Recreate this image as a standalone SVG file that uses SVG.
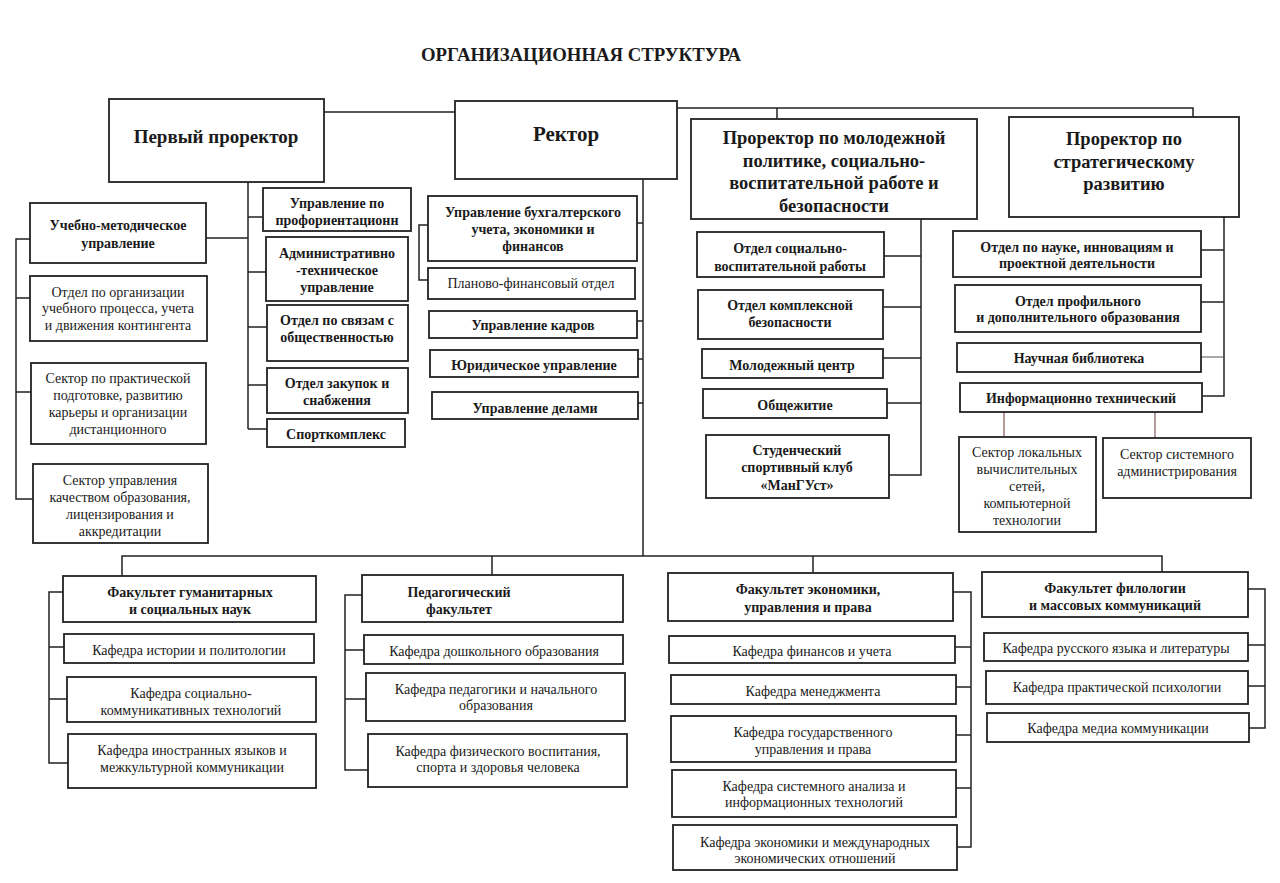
<svg xmlns="http://www.w3.org/2000/svg" width="1280" height="883" viewBox="0 0 1280 883">
<style>
.bg{fill:#ffffff}
.box{fill:#ffffff;stroke:#222;stroke-width:1.8}
.ln{fill:none;stroke:#222;stroke-width:1.5}
.lt{fill:none;stroke:#555;stroke-width:1}
.br{fill:none;stroke:#6b3a3a;stroke-width:1}
text{font-family:"Liberation Serif","Times New Roman",serif;fill:#1a1a1a;text-anchor:middle;dominant-baseline:central}
.b{font-weight:bold;font-size:14px}
.r{font-size:14px}
.h1{font-weight:bold;font-size:19px}
.h0{font-weight:bold;font-size:21px}
.h2{font-weight:bold;font-size:18.5px}
.t{font-weight:bold;font-size:18px}
</style>
<rect class="bg" x="0" y="0" width="1280" height="883"/>
<text class="t" x="581" y="55" textLength="320" lengthAdjust="spacingAndGlyphs">ОРГАНИЗАЦИОННАЯ СТРУКТУРА</text>

<g id="connectors">
<path class="ln" d="M324,112 H455"/>
<path class="ln" d="M677,108 H1193 V117 M777,108 V119"/>
<path class="ln" d="M248,182 V429 M248,217 H263 M248,272 H266 M248,327 H267 M248,385 H267 M248,429 H267 M206,238 H248"/>
<path class="ln" d="M30,239 H16 V499 H33 M16,298 H30 M16,392 H31"/>
<path class="ln" d="M643,179 V556 M637,223 H643 M637,321 H643 M638,359 H643 M638,403 H643 M428,225 H419 V280 H428"/>
<path class="ln" d="M921,219 V475 H889 M884,256 H921 M883,307 H921 M883,358 H921 M887,403 H921"/>
<path class="ln" d="M1224,217 V396 H1202 M1201,250 H1224 M1201,302 H1224"/>
<path class="lt" d="M1201,357 H1224"/>
<path class="br" d="M1004,412 V437 M1155,412 V438"/>
<path class="ln" d="M122,576 V556 H1162 V572 M492,556 V575 M813,556 V573"/>
<path class="ln" d="M63,592 H49 V763 H68 M49,647 H64 M49,699 H67"/>
<path class="ln" d="M362,595 H345 V770 H368 M345,650 H364 M345,699 H366"/>
<path class="ln" d="M953,592 H971 V847 H957 M955,647 H971 M956,687 H971 M956,735 H971 M956,788 H971"/>
<path class="ln" d="M1248,589 H1265 V728 H1249 M1248,645 H1265 M1248,686 H1265"/>
</g>

<g id="first-prorector"><rect class="box" x="109" y="99" width="215" height="83"/><text class="h1" x="216" y="136">Первый проректор</text></g>
<g id="rector"><rect class="box" x="455" y="101" width="222" height="78"/><text class="h0" x="566" y="134">Ректор</text></g>
<g id="prorector-youth"><rect class="box" x="691" y="119" width="286" height="100"/>
<text class="h2" x="834" y="138">Проректор по молодежной</text><text class="h2" x="834" y="161">политике, социально-</text><text class="h2" x="834" y="183">воспитательной работе и</text><text class="h2" x="834" y="206">безопасности</text></g>
<g id="prorector-strategy"><rect class="box" x="1009" y="117" width="230" height="100"/>
<text class="h2" x="1124" y="139">Проректор по</text><text class="h2" x="1124" y="162">стратегическому</text><text class="h2" x="1124" y="184">развитию</text></g>

<g id="umu"><rect class="box" x="30" y="203" width="176" height="60"/><text class="b" x="118" y="225">Учебно-методическое</text><text class="b" x="118" y="243">управление</text></g>
<g id="otdel-org"><rect class="box" x="30" y="276" width="177" height="65"/><text class="r" x="118" y="292">Отдел по организации</text><text class="r" x="118" y="308">учебного процесса, учета</text><text class="r" x="118" y="325">и движения контингента</text></g>
<g id="sektor-prakt"><rect class="box" x="31" y="363" width="175" height="81"/><text class="r" x="118" y="378">Сектор по практической</text><text class="r" x="118" y="395">подготовке, развитию</text><text class="r" x="118" y="412">карьеры и организации</text><text class="r" x="118" y="429">дистанционного</text></g>
<g id="sektor-kach"><rect class="box" x="33" y="464" width="175" height="79"/><text class="r" x="120" y="480">Сектор управления</text><text class="r" x="120" y="497">качеством образования,</text><text class="r" x="120" y="514">лицензирования и</text><text class="r" x="120" y="531">аккредитации</text></g>

<g id="proforient"><rect class="box" x="263" y="188" width="148" height="43"/><text class="b" x="337" y="203">Управление по</text><text class="b" x="337" y="220">профориентационн</text></g>
<g id="adm-tech"><rect class="box" x="266" y="237" width="142" height="64"/><text class="b" x="337" y="253">Административно</text><text class="b" x="337" y="270">-техническое</text><text class="b" x="337" y="287">управление</text></g>
<g id="pr-otdel"><rect class="box" x="267" y="305" width="141" height="56"/><text class="b" x="337" y="320">Отдел по связам с</text><text class="b" x="337" y="337">общественностью</text></g>
<g id="zakupki"><rect class="box" x="267" y="368" width="141" height="45"/><text class="b" x="337" y="383">Отдел закупок и</text><text class="b" x="337" y="400">снабжения</text></g>
<g id="sportkompleks"><rect class="box" x="267" y="419" width="138" height="28"/><text class="b" x="336" y="434">Спорткомплекс</text></g>

<g id="buh"><rect class="box" x="428" y="196" width="209" height="65"/><text class="b" x="533" y="212">Управление бухгалтерского</text><text class="b" x="533" y="229">учета, экономики и</text><text class="b" x="533" y="246">финансов</text></g>
<g id="plan-fin"><rect class="box" x="428" y="268" width="207" height="31"/><text class="r" x="531" y="283">Планово-финансовый отдел</text></g>
<g id="kadry"><rect class="box" x="429" y="311" width="208" height="27"/><text class="b" x="533" y="325">Управление кадров</text></g>
<g id="yurid"><rect class="box" x="430" y="350" width="208" height="27"/><text class="b" x="534" y="365">Юридическое управление</text></g>
<g id="dela"><rect class="box" x="432" y="392" width="206" height="27"/><text class="b" x="535" y="408">Управление делами</text></g>

<g id="soc-vosp"><rect class="box" x="697" y="232" width="187" height="45"/><text class="b" x="790" y="248">Отдел социально-</text><text class="b" x="790" y="266">воспитательной работы</text></g>
<g id="bezop"><rect class="box" x="698" y="290" width="185" height="49"/><text class="b" x="790" y="305">Отдел комплексной</text><text class="b" x="790" y="322">безопасности</text></g>
<g id="mol-centr"><rect class="box" x="702" y="349" width="181" height="29"/><text class="b" x="792" y="365">Молодежный центр</text></g>
<g id="obshezhitie"><rect class="box" x="703" y="389" width="184" height="29"/><text class="b" x="795" y="405">Общежитие</text></g>
<g id="mangust"><rect class="box" x="706" y="435" width="183" height="63"/><text class="b" x="797" y="450">Студенческий</text><text class="b" x="797" y="467">спортивный клуб</text><text class="b" x="797" y="485">«МанГУст»</text></g>

<g id="nauka"><rect class="box" x="953" y="231" width="248" height="46"/><text class="b" x="1077" y="247">Отдел по науке, инновациям и</text><text class="b" x="1077" y="263">проектной деятельности</text></g>
<g id="profil"><rect class="box" x="955" y="285" width="246" height="47"/><text class="b" x="1078" y="301">Отдел профильного</text><text class="b" x="1078" y="317">и дополнительного образования</text></g>
<g id="biblioteka"><rect class="box" x="957" y="343" width="244" height="29"/><text class="b" x="1079" y="358">Научная библиотека</text></g>
<g id="info-tech"><rect class="box" x="960" y="383" width="242" height="29"/><text class="b" x="1081" y="398">Информационно технический</text></g>
<g id="lvs"><rect class="box" x="959" y="437" width="137" height="95"/><text class="r" x="1027" y="452">Сектор локальных</text><text class="r" x="1027" y="469">вычислительных</text><text class="r" x="1027" y="486">сетей,</text><text class="r" x="1027" y="503">компьютерной</text><text class="r" x="1027" y="520">технологии</text></g>
<g id="sysadm"><rect class="box" x="1103" y="438" width="148" height="60"/><text class="r" x="1177" y="454">Сектор системного</text><text class="r" x="1177" y="471">администрирования</text></g>

<g id="fak-gum"><rect class="box" x="63" y="576" width="253" height="46"/><text class="b" x="190" y="592">Факультет гуманитарных</text><text class="b" x="190" y="609">и социальных наук</text></g>
<g id="kaf-ist"><rect class="box" x="64" y="634" width="250" height="29"/><text class="r" x="189" y="650">Кафедра истории и политологии</text></g>
<g id="kaf-sok"><rect class="box" x="67" y="677" width="249" height="45"/><text class="r" x="191" y="693">Кафедра социально-</text><text class="r" x="191" y="710">коммуникативных технологий</text></g>
<g id="kaf-in"><rect class="box" x="68" y="734" width="248" height="54"/><text class="r" x="192" y="750">Кафедра иностранных языков и</text><text class="r" x="192" y="767">межкультурной коммуникации</text></g>

<g id="fak-ped"><rect class="box" x="362" y="575" width="261" height="47"/><text class="b" x="459" y="592">Педагогический</text><text class="b" x="459" y="609">факультет</text></g>
<g id="kaf-dosh"><rect class="box" x="364" y="635" width="259" height="29"/><text class="r" x="494" y="651">Кафедра дошкольного образования</text></g>
<g id="kaf-ped"><rect class="box" x="366" y="673" width="259" height="48"/><text class="r" x="496" y="689">Кафедра педагогики и начального</text><text class="r" x="496" y="705">образования</text></g>
<g id="kaf-fiz"><rect class="box" x="368" y="734" width="259" height="53"/><text class="r" x="498" y="751">Кафедра физического воспитания,</text><text class="r" x="498" y="767">спорта и здоровья человека</text></g>

<g id="fak-ekon"><rect class="box" x="668" y="573" width="285" height="48"/><text class="b" x="808" y="589">Факультет экономики,</text><text class="b" x="808" y="607">управления и права</text></g>
<g id="kaf-fin"><rect class="box" x="669" y="636" width="286" height="27"/><text class="r" x="812" y="651">Кафедра финансов и учета</text></g>
<g id="kaf-men"><rect class="box" x="671" y="675" width="285" height="29"/><text class="r" x="813" y="691">Кафедра менеджмента</text></g>
<g id="kaf-gos"><rect class="box" x="671" y="716" width="285" height="46"/><text class="r" x="813" y="732">Кафедра государственного</text><text class="r" x="813" y="749">управления и права</text></g>
<g id="kaf-sis"><rect class="box" x="672" y="770" width="284" height="47"/><text class="r" x="814" y="786">Кафедра системного анализа и</text><text class="r" x="814" y="802">информационных технологий</text></g>
<g id="kaf-mezh"><rect class="box" x="673" y="825" width="284" height="45"/><text class="r" x="815" y="842">Кафедра экономики и международных</text><text class="r" x="815" y="858">экономических отношений</text></g>

<g id="fak-fil"><rect class="box" x="982" y="572" width="266" height="45"/><text class="b" x="1115" y="588">Факультет филологии</text><text class="b" x="1115" y="605">и массовых коммуникаций</text></g>
<g id="kaf-rus"><rect class="box" x="984" y="633" width="264" height="28"/><text class="r" x="1116" y="648">Кафедра русского языка и литературы</text></g>
<g id="kaf-psy"><rect class="box" x="986" y="671" width="262" height="33"/><text class="r" x="1117" y="687">Кафедра практической психологии</text></g>
<g id="kaf-media"><rect class="box" x="987" y="713" width="262" height="29"/><text class="r" x="1118" y="728">Кафедра медиа коммуникации</text></g>
</svg>
